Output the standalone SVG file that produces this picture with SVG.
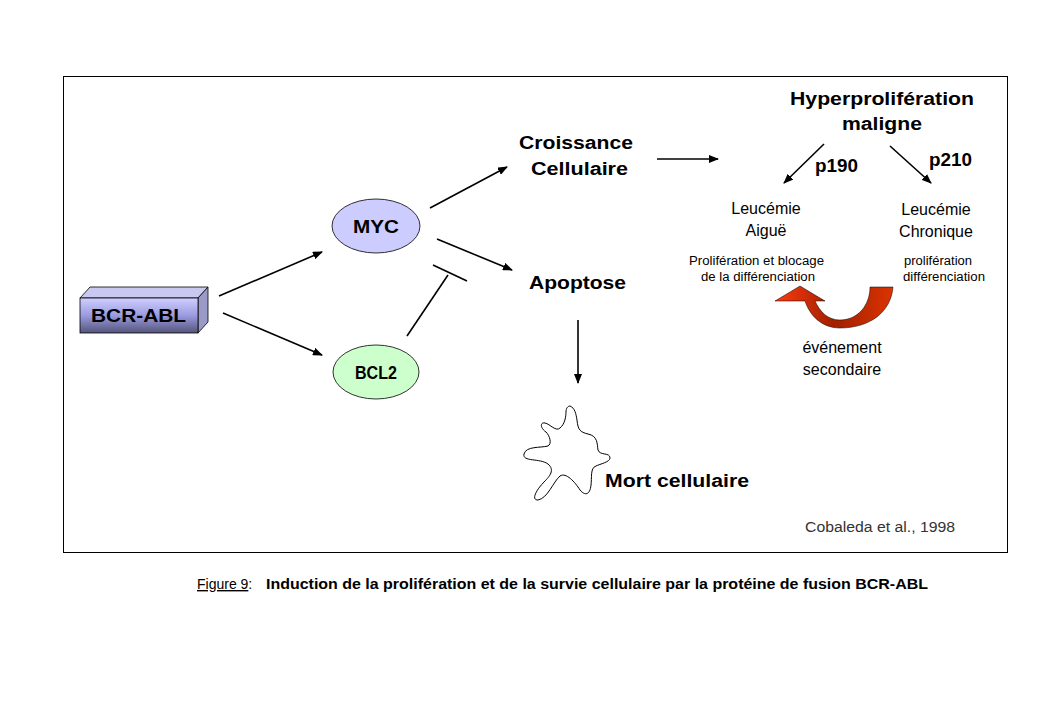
<svg xmlns="http://www.w3.org/2000/svg" width="1039" height="719" viewBox="0 0 1039 719">
<style>
text{font-family:"Liberation Sans",Arial,sans-serif;fill:#000}
.b{font-weight:bold;font-size:18px}
.r{font-size:16px}
.s{font-size:12px}
.ln{stroke:#000;stroke-width:1.6;fill:none}
</style>
<defs>
<marker id="ah" markerWidth="10" markerHeight="8" refX="9" refY="4" orient="auto" markerUnits="userSpaceOnUse" viewBox="0 0 10 8"><path d="M0,0L10,4L0,8z" fill="#000"/></marker>
<linearGradient id="bg" x1="0" y1="0" x2="0" y2="1"><stop offset="0" stop-color="#d0d0ff"/><stop offset="0.5" stop-color="#9a9ae0"/><stop offset="1" stop-color="#55557a"/></linearGradient>
<linearGradient id="rg" x1="0" y1="0" x2="1" y2="0"><stop offset="0" stop-color="#ff3a10"/><stop offset="0.5" stop-color="#a02000"/><stop offset="1" stop-color="#dd3300"/></linearGradient>
</defs>
<rect width="1039" height="719" fill="#fff"/>
<rect x="63.5" y="76.5" width="944" height="476" fill="none" stroke="#000" stroke-width="1"/>
<g id="bcrabl">
<path d="M80,298 L90,287 L208,287 L198,298z" fill="#c8c8f0" stroke="#000" stroke-width="0.8"/>
<path d="M198,298 L208,287 L208,322 L198,333z" fill="#9a9ac8" stroke="#000" stroke-width="0.8"/>
<rect x="80" y="298" width="118" height="35" fill="url(#bg)" stroke="#000" stroke-width="0.8"/>
<text x="91" y="322" class="b" textLength="95" lengthAdjust="spacingAndGlyphs">BCR-ABL</text>
</g>
<g id="myc"><ellipse cx="376" cy="226" rx="44" ry="27" fill="#ccccff" stroke="#000" stroke-width="0.8"/><text x="353" y="233" class="b" textLength="46" lengthAdjust="spacingAndGlyphs">MYC</text></g>
<g id="bcl2"><ellipse cx="376" cy="372" rx="43" ry="27" fill="#ccffcc" stroke="#000" stroke-width="0.8"/><text x="355" y="379" class="b" textLength="42" lengthAdjust="spacingAndGlyphs">BCL2</text></g>
<g id="croissance"><text x="519" y="149" class="b" textLength="114" lengthAdjust="spacingAndGlyphs">Croissance</text><text x="531" y="175" class="b" textLength="97" lengthAdjust="spacingAndGlyphs">Cellulaire</text></g>
<g id="apoptose"><text x="529" y="289" class="b" textLength="97" lengthAdjust="spacingAndGlyphs">Apoptose</text></g>
<g id="hyper"><text x="790" y="105" class="b" textLength="184" lengthAdjust="spacingAndGlyphs">Hyperprolifération</text><text x="842" y="130" class="b" textLength="80" lengthAdjust="spacingAndGlyphs">maligne</text></g>
<g id="p190"><text x="815" y="172" class="b" textLength="43" lengthAdjust="spacingAndGlyphs">p190</text></g>
<g id="p210"><text x="929" y="166" class="b" textLength="43" lengthAdjust="spacingAndGlyphs">p210</text></g>
<g id="aigue"><text x="766" y="214" class="r" text-anchor="middle">Leucémie</text><text x="766" y="236" class="r" text-anchor="middle">Aiguë</text>
<text x="689" y="265" class="s" textLength="135" lengthAdjust="spacingAndGlyphs">Prolifération et blocage</text><text x="701" y="281" class="s" textLength="114" lengthAdjust="spacingAndGlyphs">de la différenciation</text></g>
<g id="chronique"><text x="936" y="215" class="r" text-anchor="middle">Leucémie</text><text x="936" y="237" class="r" text-anchor="middle">Chronique</text>
<text x="904" y="265" class="s" textLength="68" lengthAdjust="spacingAndGlyphs">prolifération</text><text x="903" y="281" class="s" textLength="82" lengthAdjust="spacingAndGlyphs">différenciation</text></g>
<g id="evenement">
<path d="M893,287 C891,312 870,328 840,328 C822,328 810,316 805,301 L775,301 L800,286 L825,301 L815,301 C820,312 828,320 840,320 C858,320 870,305 870,287z" fill="url(#rg)" stroke="#000" stroke-width="0.5"/>
<text x="842" y="353" class="r" text-anchor="middle">événement</text><text x="842" y="375" class="r" text-anchor="middle">secondaire</text></g>
<g id="mort">
<path d="M570,406 C575,408 576,414 577,420 C578,430 580,432 588,434 C598,436 597,444 598,450 C600,456 610,452 610,458 C610,462 600,464 596,466 C590,468 592,478 591,485 C590,495 585,496 580,490 C575,482 566,472 560,476 C553,482 548,498 538,500 C530,500 538,488 544,482 C550,476 555,470 548,464 C540,458 522,462 524,454 C526,446 540,448 548,446 C552,444 550,436 546,432 C540,428 540,422 545,423 C550,424 556,432 560,428 C565,424 566,416 566,412 C566,408 568,406 570,406z" fill="#fff" stroke="#000" stroke-width="1"/>
<text x="605" y="487" class="b" textLength="144" lengthAdjust="spacingAndGlyphs">Mort cellulaire</text></g>
<g id="connectors">
<line x1="219" y1="296" x2="322" y2="252" class="ln" marker-end="url(#ah)"/>
<line x1="223" y1="313" x2="322" y2="355" class="ln" marker-end="url(#ah)"/>
<line x1="430" y1="208" x2="507" y2="167" class="ln" marker-end="url(#ah)"/>
<line x1="437" y1="239" x2="512" y2="270" class="ln" marker-end="url(#ah)"/>
<line x1="407" y1="336" x2="448" y2="275" class="ln"/>
<line x1="433" y1="265" x2="467" y2="281" class="ln"/>
<line x1="657" y1="159" x2="718" y2="159" class="ln" marker-end="url(#ah)"/>
<line x1="578" y1="320" x2="578" y2="383" class="ln" marker-end="url(#ah)"/>
<line x1="824" y1="144" x2="784" y2="183" class="ln" marker-end="url(#ah)"/>
<line x1="890" y1="146" x2="931" y2="183" class="ln" marker-end="url(#ah)"/>
</g>
<text x="805" y="532" font-size="14" textLength="150" lengthAdjust="spacingAndGlyphs" style="fill:#333">Cobaleda et al., 1998</text>
<text x="197" y="589" font-size="14"><tspan text-decoration="underline">Figure 9</tspan>: </text>
<text x="266" y="589" font-size="14" font-weight="bold" textLength="662" lengthAdjust="spacingAndGlyphs">Induction de la prolifération et de la survie cellulaire par la protéine de fusion BCR-ABL</text>
</svg>
